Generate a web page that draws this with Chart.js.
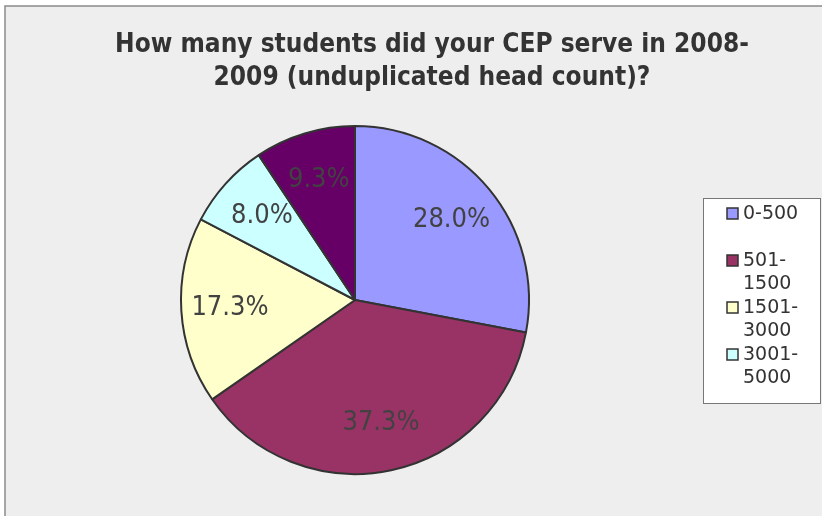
<!DOCTYPE html>
<html>
<head>
<meta charset="utf-8">
<script src="https://cdn.jsdelivr.net/npm/chart.js@4/dist/chart.umd.min.js"></script>
<style>
  html, body { margin: 0; padding: 0; background: #fff; }
  #chart { display: block; }
</style>
</head>
<body>
<canvas id="chart" width="822" height="516"></canvas>
<script>
// Survey responses (count of programs per size band)
const categories = ['0-500', '501-1500', '1501-3000', '3001-5000', '5001+'];
const legendLines = [['0-500'], ['501-', '1500'], ['1501-', '3000'], ['3001-', '5000'], ['5001+']];
const counts = [21, 28, 13, 6, 7];
const colors = ['#9999FF', '#993366', '#FFFFCC', '#CCFFFF', '#660066'];
const titleLines = ['How many students did your CEP serve in 2008-', '2009 (unduplicated head count)?'];

const total = counts.reduce((a, b) => a + b, 0);

// Grey panel with a frame along the top and left edges
const panelPlugin = {
    id: 'panel',
    beforeDraw(chart) {
        const c = chart.ctx;
        c.save();
        c.fillStyle = '#ffffff';
        c.fillRect(0, 0, chart.width, chart.height);
        c.fillStyle = '#EEEEEE';
        c.fillRect(5, 6, chart.width, chart.height);
        c.strokeStyle = '#8a8a8a';
        c.lineWidth = 1.5;
        c.beginPath();
        c.moveTo(5, chart.height);
        c.lineTo(5, 6);
        c.lineTo(chart.width, 6);
        c.stroke();

        // title
        c.fillStyle = '#333333';
        c.font = 'bold 26px "DejaVu Sans Condensed", "DejaVu Sans", sans-serif';
        c.textAlign = 'center';
        c.textBaseline = 'alphabetic';
        titleLines.forEach((t, i) => c.fillText(t, 432, 52 + i * 33));
        c.restore();
    }
};

// Percentage labels inside each slice
const sliceLabels = {
    id: 'sliceLabels',
    afterDatasetsDraw(chart) {
        const c = chart.ctx;
        const meta = chart.getDatasetMeta(0);
        c.save();
        c.font = '27px "DejaVu Sans Condensed", "DejaVu Sans", sans-serif';
        c.fillStyle = '#424242';
        c.textAlign = 'center';
        c.textBaseline = 'middle';
        meta.data.forEach((arc, i) => {
            const p = arc.getProps(['x', 'y', 'startAngle', 'endAngle', 'outerRadius'], true);
            const mid = (p.startAngle + p.endAngle) / 2;
            const r = p.outerRadius * 0.72;
            const pct = (counts[i] / total * 100).toFixed(1) + '%';
            c.fillText(pct, p.x + Math.cos(mid) * r, p.y + Math.sin(mid) * r);
        });
        c.restore();
    }
};

// Boxed legend on the right; only entries that fit in the box are shown
const boxLegend = {
    id: 'boxLegend',
    afterDraw(chart) {
        const c = chart.ctx;
        const box = { x: 703, y: 198, w: 117, h: 205 };
        const items = chart.legend.legendItems;
        c.save();
        c.fillStyle = '#ffffff';
        c.fillRect(box.x, box.y, box.w, box.h);
        c.font = '19px "DejaVu Sans", sans-serif';
        c.textBaseline = 'middle';
        c.textAlign = 'left';
        let y = 214;
        items.forEach((item, i) => {
            const lines = legendLines[i];
            if (y + (lines.length - 1) * 23 + 10 > box.y + box.h) return;
            c.fillStyle = item.fillStyle;
            c.strokeStyle = '#333333';
            c.lineWidth = 1.5;
            c.fillRect(727, y - 6, 11, 11);
            c.strokeRect(727, y - 6, 11, 11);
            c.fillStyle = '#333333';
            lines.forEach((t, j) => c.fillText(t, 743, y + j * 23));
            y += 47;
        });
        c.strokeStyle = '#777777';
        c.lineWidth = 1;
        c.strokeRect(box.x + 0.5, box.y + 0.5, box.w, box.h);
        c.restore();
    }
};

const ctx = document.getElementById('chart').getContext('2d');
const chart = new Chart(ctx, {
    type: 'pie',
    data: {
        labels: categories,
        datasets: [{
            data: counts,
            backgroundColor: colors,
            borderColor: '#333333',
            borderWidth: 2
        }]
    },
    options: {
        responsive: false,
        animation: false,
        layout: {
            padding: { left: 180, right: 292, top: 125, bottom: 41 }
        },
        plugins: {
            legend: { display: false },
            title: { display: false },
            tooltip: { enabled: false }
        }
    },
    plugins: [panelPlugin, sliceLabels, boxLegend]
});
</script>
</body>
</html>
